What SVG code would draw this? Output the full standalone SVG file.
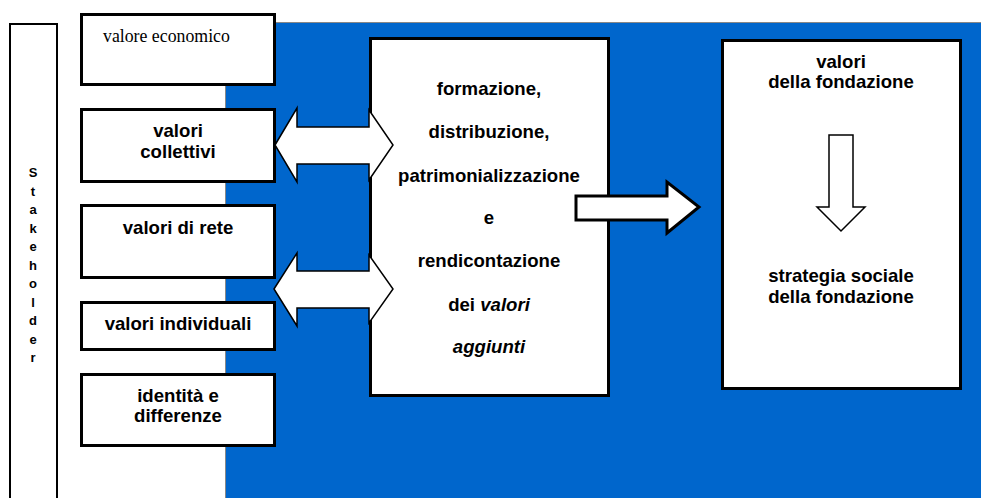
<svg xmlns="http://www.w3.org/2000/svg" width="981" height="498" viewBox="0 0 981 498">
<style>
.box{fill:#fff;stroke:#000;stroke-width:3}
.t{font-family:"Liberation Sans",Arial,sans-serif;font-weight:bold;font-size:18.6px;fill:#000;text-anchor:middle}
.s{font-family:"Liberation Sans",Arial,sans-serif;font-weight:bold;font-size:13px;fill:#000;text-anchor:middle}
.arr{fill:#fff;stroke:#000;stroke-width:1.5;stroke-linejoin:miter}
</style>
<rect x="0" y="0" width="981" height="498" fill="#fff"/>
<g id="background">
<rect x="225.5" y="22.5" width="760" height="480" fill="#0066cc" stroke="#888" stroke-width="1"/>
</g>
<g id="stakeholder">
<rect x="10" y="24" width="47" height="490" fill="#fff" stroke="#000" stroke-width="2"/>
<text class="s" x="33" y="177">S</text>
<text class="s" x="33" y="195.5">t</text>
<text class="s" x="33" y="214">a</text>
<text class="s" x="33" y="232.5">k</text>
<text class="s" x="33" y="251">e</text>
<text class="s" x="33" y="269.5">h</text>
<text class="s" x="33" y="288">o</text>
<text class="s" x="33" y="306.5">l</text>
<text class="s" x="33" y="325">d</text>
<text class="s" x="33" y="343.5">e</text>
<text class="s" x="33" y="362">r</text>
</g>
<g id="valore-economico">
<rect class="box" x="81.5" y="14.5" width="193" height="70"/>
<text x="103" y="42" font-family="Liberation Serif,'Times New Roman',serif" font-size="17.8">valore economico</text>
</g>
<g id="valori-collettivi">
<rect class="box" x="81.5" y="109.5" width="193" height="72"/>
<text class="t" x="178" y="137">valori</text>
<text class="t" x="178" y="158">collettivi</text>
</g>
<g id="valori-di-rete">
<rect class="box" x="81.5" y="205.5" width="193" height="72"/>
<text class="t" x="178" y="234">valori di rete</text>
</g>
<g id="valori-individuali">
<rect class="box" x="81.5" y="302.5" width="193" height="47"/>
<text class="t" x="178" y="330">valori individuali</text>
</g>
<g id="identita">
<rect class="box" x="81.5" y="374.5" width="193" height="71"/>
<text class="t" x="178" y="402">identità e</text>
<text class="t" x="178" y="422">differenze</text>
</g>
<g id="centrale">
<rect class="box" x="370.5" y="38.5" width="238" height="357"/>
<text class="t" x="489" y="95">formazione,</text>
<text class="t" x="489" y="138">distribuzione,</text>
<text class="t" x="489" y="182">patrimonializzazione</text>
<text class="t" x="489" y="224">e</text>
<text class="t" x="489" y="267">rendicontazione</text>
<text class="t" x="489" y="311">dei <tspan font-style="italic">valori</tspan></text>
<text class="t" x="489" y="353" font-style="italic">aggiunti</text>
</g>
<g id="fondazione">
<rect class="box" x="722.5" y="40.5" width="238" height="348"/>
<text class="t" x="841" y="68">valori</text>
<text class="t" x="841" y="88">della fondazione</text>
<text class="t" x="841" y="282">strategia sociale</text>
<text class="t" x="841" y="303">della fondazione</text>
</g>
<g id="connectors">
<polygon class="arr" points="275,145 297,108 297,127 369,127 369,110 393,145 369,180 369,164 297,164 297,182"/>
<polygon class="arr" points="274,289 297,253 297,271 369,271 369,255 393,289 369,323 369,308 297,308 297,326"/>
<polygon fill="#fff" stroke="#000" stroke-width="3" points="576,196 667,196 667,182 699,207 667,233 667,220 576,220"/>
<polygon class="arr" points="829,135 853,135 853,207 865,207 841,231 817,207 829,207"/>
</g>
</svg>
